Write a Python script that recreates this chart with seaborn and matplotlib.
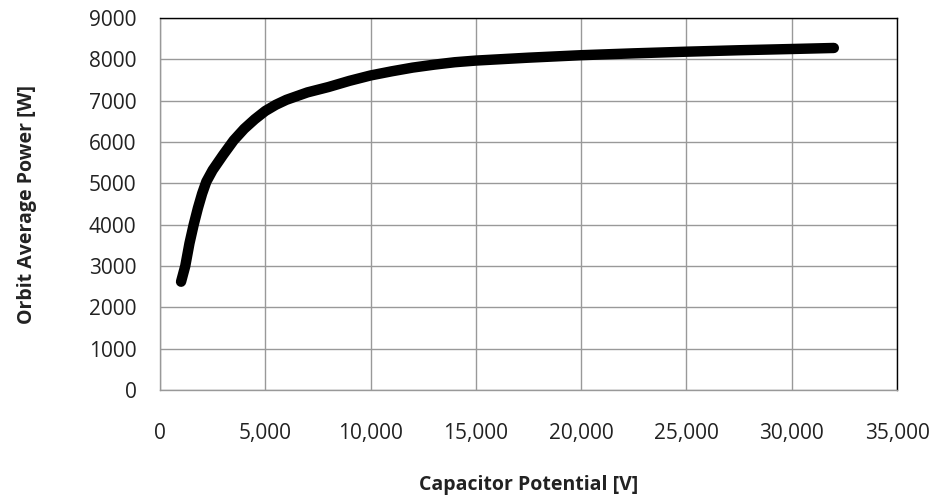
import matplotlib
matplotlib.use("Agg")
import matplotlib.pyplot as plt
import seaborn as sns
import pandas as pd
from matplotlib.ticker import FuncFormatter, MultipleLocator

voltage = [1000, 1200, 1400, 1600, 1800, 2000, 2200, 2500, 3000, 3500,
           4000, 4500, 5000, 5500, 6000, 7000, 8000, 9000, 10000, 11000,
           12000, 13000, 14000, 15000, 17500, 20000, 22500, 25000, 27500,
           30000, 32000]
power = [2620, 3000, 3550, 4000, 4400, 4750, 5040, 5320, 5690, 6040,
         6320, 6550, 6750, 6900, 7020, 7200, 7330, 7480, 7610, 7710,
         7800, 7870, 7930, 7970, 8040, 8100, 8145, 8185, 8220,
         8250, 8275]

df = pd.DataFrame({"Capacitor Potential [V]": voltage,
                   "Orbit Average Power [W]": power})

sns.set_theme(style="white")
plt.rcParams['font.family'] = ['Open Sans', 'DejaVu Sans']

fig = plt.figure(figsize=(9.39, 5.01), dpi=100)
ax = fig.add_axes([160/939, 1-390/501, (897-160)/939, (390-18)/501])

sns.lineplot(data=df, x="Capacitor Potential [V]", y="Orbit Average Power [W]",
             ax=ax, color="black", linewidth=7.5, solid_capstyle="round",
             solid_joinstyle="round", zorder=3)

ax.set_xlim(0, 35000)
ax.set_ylim(0, 9000)
ax.xaxis.set_major_locator(MultipleLocator(5000))
ax.yaxis.set_major_locator(MultipleLocator(1000))
ax.xaxis.set_major_formatter(FuncFormatter(lambda v, p: f"{int(v):,}"))
ax.yaxis.set_major_formatter(FuncFormatter(lambda v, p: f"{int(v)}"))

ax.grid(True, color="#999999", linewidth=1.0)
ax.set_axisbelow(True)
for s in ["left", "bottom"]:
    ax.spines[s].set_color("#999999")
    ax.spines[s].set_linewidth(1.0)
for s in ["top", "right"]:
    ax.spines[s].set_color("black")
    ax.spines[s].set_linewidth(1.0)

ax.tick_params(axis="x", length=0, pad=24, labelsize=15, colors="#222222")
ax.tick_params(axis="y", length=0, pad=17, labelsize=15, colors="#222222")

ax.set_xlabel("Capacitor Potential [V]", fontsize=14, fontweight="bold",
              color="#222222", labelpad=22)
ax.set_ylabel("Orbit Average Power [W]", fontsize=14, fontweight="bold",
              color="#222222", labelpad=37)

fig.savefig("out.png", dpi=100, facecolor="white")
